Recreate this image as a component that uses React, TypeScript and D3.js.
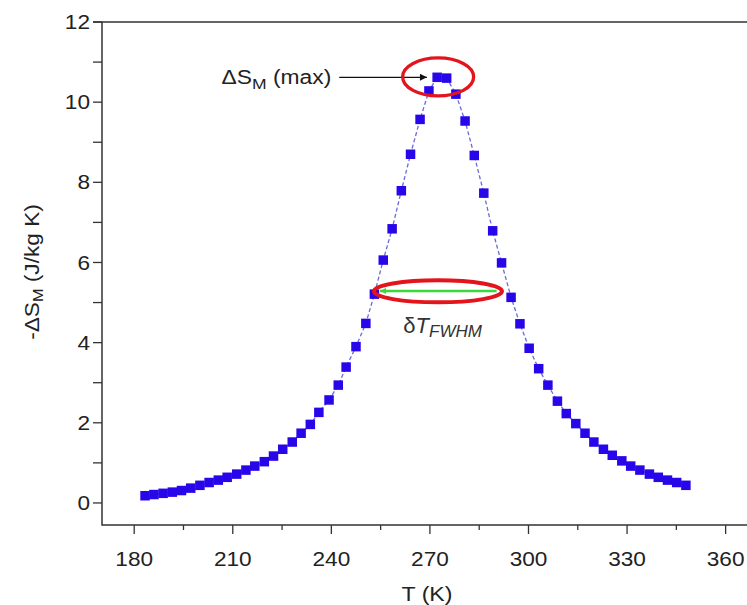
import { useRef, useEffect, RefObject } from 'react';
import * as d3 from 'd3';

// temperature (K) and -ΔS_M (J/kg K)
const temps: number[] = [
  183.3, 186.0, 188.8, 191.6, 194.4, 197.2, 200.0, 202.8, 205.6, 208.3,
  211.2, 214.0, 216.7, 219.6, 222.4, 225.2, 228.1, 230.8, 233.6, 236.2,
  239.3, 242.1, 244.5, 247.5, 250.5, 253.1, 255.8, 258.5, 261.3, 264.1,
  267.0, 269.7, 272.2, 275.1, 277.9, 280.7, 283.5, 286.4, 289.1, 291.8,
  294.7, 297.4, 300.2, 303.1, 305.9, 308.8, 311.5, 314.4, 317.2, 319.9,
  322.8, 325.5, 328.4, 331.1, 333.9, 336.8, 339.5, 342.3, 345.1, 347.9,
];
const entropy: number[] = [
  0.18, 0.21, 0.24, 0.27, 0.31, 0.37, 0.44, 0.51, 0.57, 0.64,
  0.72, 0.82, 0.92, 1.03, 1.17, 1.34, 1.52, 1.74, 1.96, 2.26,
  2.57, 2.94, 3.39, 3.9, 4.48, 5.21, 6.06, 6.84, 7.79, 8.7,
  9.57, 10.28, 10.62, 10.6, 10.2, 9.53, 8.67, 7.73, 6.79, 5.99,
  5.13, 4.47, 3.86, 3.35, 2.94, 2.54, 2.23, 1.98, 1.74, 1.52,
  1.34, 1.19, 1.05, 0.92, 0.82, 0.72, 0.64, 0.57, 0.51, 0.44,
];
const xTicks: number[] = [180, 210, 240, 270, 300, 330, 360];
const xMinorTicks: number[] = [195, 225, 255, 285, 315, 345];
const yTicks: number[] = [0, 2, 4, 6, 8, 10, 12];
const yMinorTicks: number[] = [1, 3, 5, 7, 9, 11];

const Chart = () => {
  const svgRef: RefObject<SVGSVGElement> = useRef(null);

  useEffect(() => {
    const width = 747;
    const height = 605;
    const left = 102, right = 747, top = 22, bottom = 525;
    const stretch = 1.16; // the original figure's lettering is a bit wide

    const x = d3.scaleLinear().domain([170.2, 366.5]).range([left, right]);
    const y = d3.scaleLinear().domain([-0.55, 12]).range([bottom, top]);

    const svg = d3
      .select(svgRef.current)
      .attr('width', width)
      .attr('height', height)
      .attr('style', 'position:absolute;left:0;top:0;background:#fff;font-family:"Liberation Sans",Arial,sans-serif;');
    svg.selectAll('*').remove();

    const defs = svg.append('defs');
    defs.append('marker')
      .attr('id', 'arrowBlack')
      .attr('viewBox', '0 0 10 10')
      .attr('refX', 10).attr('refY', 5)
      .attr('markerWidth', 14).attr('markerHeight', 7)
      .attr('markerUnits', 'userSpaceOnUse')
      .attr('orient', 'auto')
      .append('path').attr('d', 'M0,0L10,5L0,10Z').attr('fill', '#111');
    defs.append('marker')
      .attr('id', 'arrowGreen')
      .attr('viewBox', '0 0 10 10')
      .attr('refX', 10).attr('refY', 5)
      .attr('markerWidth', 15).attr('markerHeight', 6)
      .attr('markerUnits', 'userSpaceOnUse')
      .attr('orient', 'auto')
      .append('path').attr('d', 'M0,0L10,5L0,10Z').attr('fill', '#3bd83b');

    // frame
    const axisColor = '#333';
    svg.append('path')
      .attr('d', `M${left - 9},${top}H${right}M${left},${top}V${bottom}H${right}`)
      .attr('fill', 'none').attr('stroke', axisColor).attr('stroke-width', 1.5);

    // y ticks
    svg.append('g').selectAll('line')
      .data(yTicks.concat(yMinorTicks))
      .join('line')
      .attr('x1', left - 9).attr('x2', left)
      .attr('y1', (d) => y(d)).attr('y2', (d) => y(d))
      .attr('stroke', axisColor).attr('stroke-width', 1.3);
    svg.append('g').selectAll('text')
      .data(yTicks)
      .join('text')
      .attr('transform', (d) => `translate(${left - 12},${y(d)}) scale(${stretch},1)`)
      .attr('dy', '0.36em')
      .attr('text-anchor', 'end')
      .attr('font-size', 19.5)
      .attr('fill', '#222')
      .text((d) => d);

    // x ticks
    svg.append('g').selectAll('line')
      .data(xTicks)
      .join('line')
      .attr('x1', (d) => x(d)).attr('x2', (d) => x(d))
      .attr('y1', bottom).attr('y2', bottom + 9)
      .attr('stroke', axisColor).attr('stroke-width', 1.3);
    svg.append('g').selectAll('line')
      .data(xMinorTicks)
      .join('line')
      .attr('x1', (d) => x(d)).attr('x2', (d) => x(d))
      .attr('y1', bottom).attr('y2', bottom + 5)
      .attr('stroke', axisColor).attr('stroke-width', 1.3);
    svg.append('g').selectAll('text')
      .data(xTicks)
      .join('text')
      .attr('transform', (d) => `translate(${x(d)},${bottom + 41}) scale(${stretch},1)`)
      .attr('text-anchor', 'middle')
      .attr('font-size', 19.5)
      .attr('fill', '#222')
      .text((d) => d);

    // axis titles
    svg.append('text')
      .attr('transform', `translate(427,601) scale(1.1,1)`)
      .attr('text-anchor', 'middle')
      .attr('font-size', 21)
      .attr('fill', '#222')
      .text('T (K)');

    const yTitle = svg.append('text')
      .attr('transform', `translate(39,${272}) rotate(-90) scale(1.08,1)`)
      .attr('text-anchor', 'middle')
      .attr('font-size', 21)
      .attr('fill', '#222');
    yTitle.append('tspan').text('-ΔS');
    yTitle.append('tspan').attr('font-size', 15).attr('dy', 4).text('M');
    yTitle.append('tspan').attr('dy', -4).text(' (J/kg K)');

    // data
    const points: [number, number][] = temps.map((t, i) => [t, entropy[i]]);
    const line = d3.line<[number, number]>().x((d) => x(d[0])).y((d) => y(d[1]));
    svg.append('path')
      .datum(points)
      .attr('d', line)
      .attr('fill', 'none')
      .attr('stroke', '#6b6bd6')
      .attr('stroke-width', 1.3)
      .attr('stroke-dasharray', '4,2.5');

    const size = 9.5;
    svg.append('g').selectAll('rect')
      .data(points)
      .join('rect')
      .attr('x', (d) => x(d[0]) - size / 2)
      .attr('y', (d) => y(d[1]) - size / 2)
      .attr('width', size).attr('height', size)
      .attr('fill', '#2806ea');

    // annotation: maximum
    const maxLabel = svg.append('text')
      .attr('transform', `translate(${x(206.6)},${y(10.62) + 7}) scale(1.17,1)`)
      .attr('font-size', 19.5)
      .attr('fill', '#222');
    maxLabel.append('tspan').text('ΔS');
    maxLabel.append('tspan').attr('font-size', 15).attr('dy', 5).text('M');
    maxLabel.append('tspan').attr('dy', -5).text(' (max)');

    svg.append('line')
      .attr('x1', x(242.4)).attr('x2', x(269.1))
      .attr('y1', y(10.62)).attr('y2', y(10.62))
      .attr('stroke', '#111').attr('stroke-width', 1.2)
      .attr('marker-end', 'url(#arrowBlack)');

    svg.append('ellipse')
      .attr('cx', x(272.5)).attr('cy', y(10.63))
      .attr('rx', 35.5).attr('ry', 19)
      .attr('fill', 'none')
      .attr('stroke', '#e3141b').attr('stroke-width', 3.3);

    // annotation: full width at half maximum
    svg.append('line')
      .attr('x1', x(290.3)).attr('x2', x(254.8))
      .attr('y1', y(5.29)).attr('y2', y(5.29))
      .attr('stroke', '#3bd83b').attr('stroke-width', 2.5)
      .attr('marker-end', 'url(#arrowGreen)');

    svg.append('ellipse')
      .attr('cx', x(272.45)).attr('cy', y(5.28))
      .attr('rx', 64).attr('ry', 11)
      .attr('fill', 'none')
      .attr('stroke', '#e3141b').attr('stroke-width', 4);

    const fwhm = svg.append('text')
      .attr('x', x(261.9)).attr('y', y(5.28) + 42)
      .attr('font-size', 22)
      .attr('fill', '#333');
    fwhm.append('tspan').text('δ');
    fwhm.append('tspan').attr('font-style', 'italic').text('T');
    fwhm.append('tspan').attr('font-style', 'italic').attr('font-size', 17).attr('dy', 4).text('FWHM');
  }, []);

  return <svg ref={svgRef}></svg>;
};

export default function App() {
  return <Chart />;
}
